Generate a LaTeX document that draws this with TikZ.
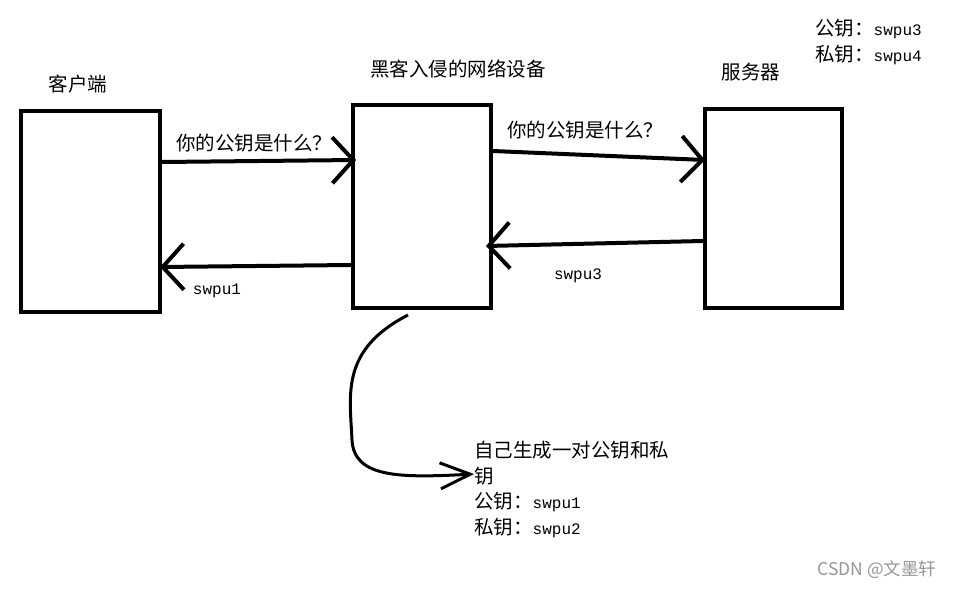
\documentclass[tikz,border=0pt]{standalone}
\usepackage{fontspec}
\setmainfont{Noto Sans CJK SC}
\newfontfamily\swfont{Liberation Mono}
\usepackage{tikz}
\usetikzlibrary{arrows.meta,positioning,calc}
\usepackage{xcolor}
\definecolor{inkblack}{RGB}{0,0,0}
\definecolor{labelgray}{RGB}{150,150,150}
\newcommand{\sw}[1]{{\swfont\fontsize{16}{25}\selectfont #1}}

\begin{document}
\begin{tikzpicture}[x=1pt,y=-1pt,
    devbox/.style={draw=inkblack,line width=4pt,minimum width=#1,minimum height=201pt,inner sep=0pt},
    msgarrow/.style={draw=inkblack,line width=4pt,-{Straight Barb[length=21pt,width=46pt]}},
    txt/.style={inner sep=0pt,font=\fontsize{19.5}{25.5}\selectfont}]
        \useasboundingbox (0,0) rectangle (958,589);

        % Devices
        \node[devbox=139pt] (client) at (90.5,211.5) {};
        \node[devbox=138pt,minimum height=203pt] (hacker) at (422,206.5) {};
        \node[devbox=137pt,minimum height=199pt] (server) at (773.5,208.5) {};

        % Titles
        \node[txt] (clienttitle) at (78,84) {客户端};
        \node[txt] (hackertitle) at (458,69) {黑客入侵的网络设备};
        \node[txt] (servertitle) at (751,72) {服务器};
        \node[txt,anchor=north west,align=left] (serverkeys) at (815,19) {公钥：\sw{swpu3}\\私钥：\sw{swpu4}};

        % Messages
        \draw[msgarrow] (client.east |- 0,162) -- ($(hacker.west |- 0,160)+(5,0)$);
        \node[txt] (ask1) at (254,143) {你的公钥是什么？};
        \draw[msgarrow] (hacker.west |- 0,265) -- ($(client.east |- 0,267)+(-2,0)$);
        \node[txt] (reply1) at (217,291) {\sw{swpu1}};
        \draw[msgarrow] (hacker.east |- 0,151) -- ($(server.west |- 0,160)+(2,0)$);
        \node[txt] (ask2) at (585,130) {你的公钥是什么？};
        \draw[msgarrow] (server.west |- 0,241) -- ($(hacker.east |- 0,246)+(-7,0)$);
        \node[txt] (reply2) at (578,276) {\sw{swpu3}};

        % Key generation
        \node[txt,anchor=north west,align=left] (keygen) at (474,441) {自己生成一对公钥和私\\钥\\公钥：\sw{swpu1}\\私钥：\sw{swpu2}};
        \coordinate (curvestart) at ($(hacker.south)+(-14,5)$);
        \draw[draw=inkblack,line width=3pt,-{Straight Barb[length=30pt,width=26pt]}]
            (curvestart) .. controls (340,350) and (350,395) .. (352,440)
            .. controls (354,478) and (400,478) .. (keygen.west |- 0,474);

        % Watermark
        \node[txt,text=labelgray,font=\fontsize{17.5}{20}\selectfont] (mark) at (877,570) {CSDN @文墨轩};
    \end{tikzpicture}
\end{document}
